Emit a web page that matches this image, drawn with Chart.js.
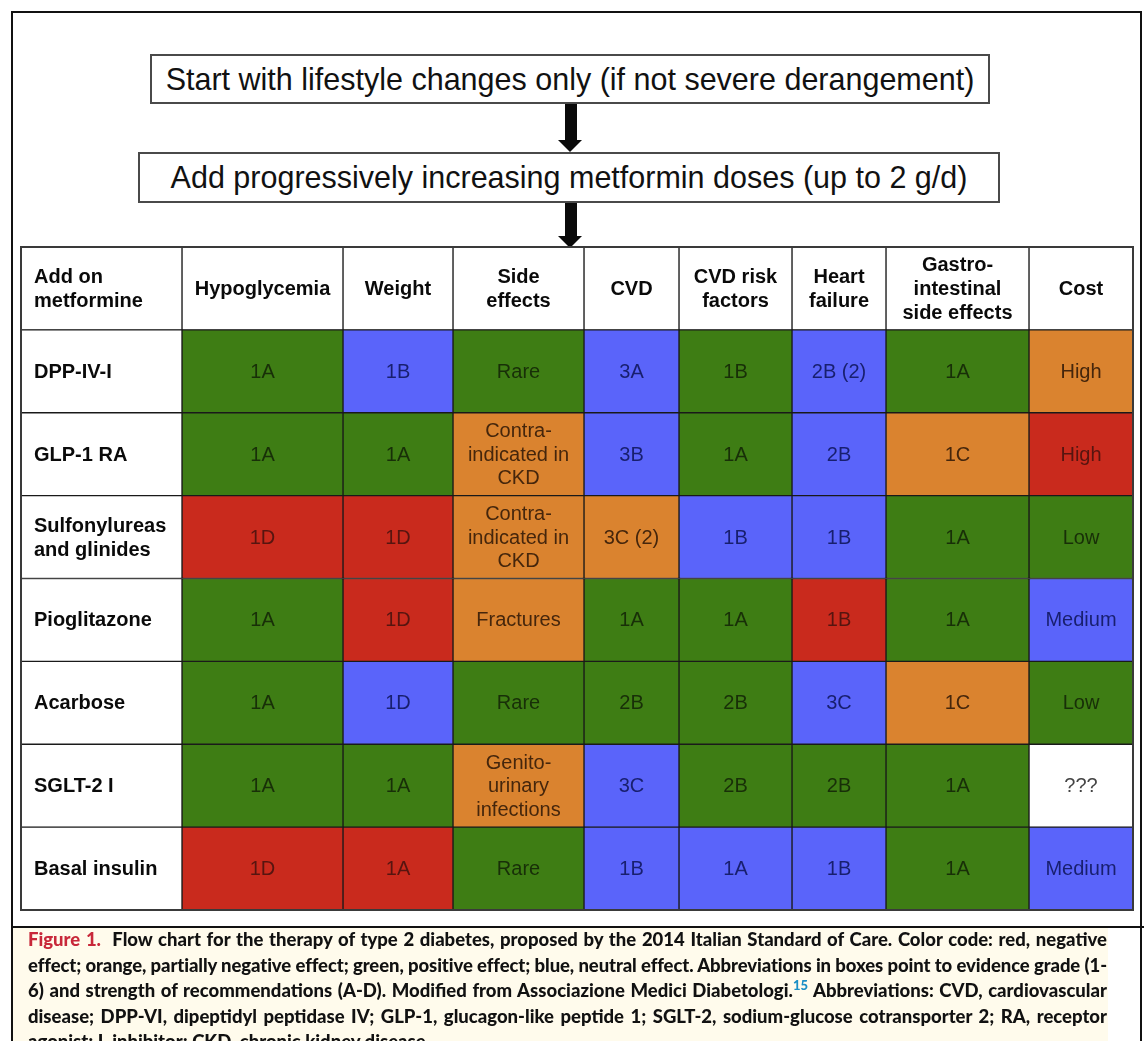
<!DOCTYPE html>
<html>
<head>
<meta charset="utf-8">
<script src="https://cdn.jsdelivr.net/npm/chart.js@4/dist/chart.umd.min.js"></script>
<style>
  body { margin: 0; background: #fff; }
  #page { position: relative; width: 1144px; height: 1041px; overflow: hidden; background: #fff; }
  #frame { position: absolute; left: 11px; top: 11px; width: 1127px; height: 1100px; border: 2px solid #111; }
  #chart { position: absolute; left: 0; top: 0; }
  .box { position: absolute; box-sizing: border-box; border: 2px solid #4a4a4a; background: #fff;
         font-family: "Liberation Sans", Arial, sans-serif; font-size: 30.5px; color: #111; text-align: center; }
  #capline { position: absolute; left: 11px; top: 926px; width: 1133px; height: 2px; background: #111; }
  #capbg { position: absolute; left: 13px; top: 928px; width: 1095px; height: 120px; background: #fffbec; }
  #caption { position: absolute; left: 28px; top: 927px; width: 1079px;
             font-family: Lato, "Open Sans", sans-serif; font-weight: 900; font-size: 18.5px; line-height: 25.5px; color: #111; }
  #caption .j { text-align: justify; text-align-last: justify; }
  #caption .red { color: #c8283a; }
  #caption sup { color: #1b8fc6; font-size: 13px; line-height: 0; vertical-align: 7px; }
</style>
</head>
<body>
<div id="page">
  <div id="frame"></div>
  <canvas id="chart" width="1144" height="1041"></canvas>
  <div class="box" style="left:150px;top:54px;width:840px;height:50px;line-height:46px;">Start with lifestyle changes only (if not severe derangement)</div>
  <div class="box" style="left:138px;top:152px;width:862px;height:51px;line-height:47px;">Add progressively increasing metformin doses (up to 2 g/d)</div>
  <div id="capline"></div>
  <div id="capbg"></div>
  <div id="caption">
    <div class="j"><span class="red">Figure 1.</span>&nbsp; Flow chart for the therapy of type 2 diabetes, proposed by the 2014 Italian Standard of Care. Color code: red, negative</div>
    <div class="j">effect; orange, partially negative effect; green, positive effect; blue, neutral effect. Abbreviations in boxes point to evidence grade (1-</div>
    <div class="j">6) and strength of recommendations (A-D). Modified from Associazione Medici Diabetologi.<sup>15</sup> Abbreviations: CVD, cardiovascular</div>
    <div class="j">disease; DPP-VI, dipeptidyl peptidase IV; GLP-1, glucagon-like peptide 1; SGLT-2, sodium-glucose cotransporter 2; RA, receptor</div>
    <div>agonist; I, inhibitor; CKD, chronic kidney disease.</div>
  </div>
</div>
<script>
// table content
const firstHeader = 'Add on\nmetformine';
const criteria = ['Hypoglycemia', 'Weight', 'Side\neffects', 'CVD', 'CVD risk\nfactors', 'Heart\nfailure', 'Gastro-\nintestinal\nside effects', 'Cost'];
const drugs = ['DPP-IV-I', 'GLP-1 RA', 'Sulfonylureas\nand glinides', 'Pioglitazone', 'Acarbose', 'SGLT-2 I', 'Basal insulin'];

// effect code per cell: R negative, O partially negative, G positive, B neutral, W unknown
const effects = [
  ['G', 'B', 'G', 'B', 'G', 'B', 'G', 'O'],
  ['G', 'G', 'O', 'B', 'G', 'B', 'O', 'R'],
  ['R', 'R', 'O', 'O', 'B', 'B', 'G', 'G'],
  ['G', 'R', 'O', 'G', 'G', 'R', 'G', 'B'],
  ['G', 'B', 'G', 'G', 'G', 'B', 'O', 'G'],
  ['G', 'G', 'O', 'B', 'G', 'G', 'G', 'W'],
  ['R', 'R', 'G', 'B', 'B', 'B', 'G', 'B']
];

// text inside the cells (evidence grade / notes)
const grades = [
  ['1A', '1B', 'Rare', '3A', '1B', '2B (2)', '1A', 'High'],
  ['1A', '1A', 'Contra-\nindicated in\nCKD', '3B', '1A', '2B', '1C', 'High'],
  ['1D', '1D', 'Contra-\nindicated in\nCKD', '3C (2)', '1B', '1B', '1A', 'Low'],
  ['1A', '1D', 'Fractures', '1A', '1A', '1B', '1A', 'Medium'],
  ['1A', '1D', 'Rare', '2B', '2B', '3C', '1C', 'Low'],
  ['1A', '1A', 'Genito-\nurinary\ninfections', '3C', '2B', '2B', '1A', '???'],
  ['1D', '1A', 'Rare', '1B', '1A', '1B', '1A', 'Medium']
];

// layout: column widths in pixels (first column holds the drug names)
const colWidths = [161, 161, 110, 131, 95, 113, 94, 143, 104];

const fill = { R: '#c92a1d', O: '#da832f', G: '#3e7d14', B: '#5a64fa', W: '#ffffff' };
const ink = { R: '#561510', O: '#45260c', G: '#182f08', B: '#181f6e', W: '#444444' };

const rows = ['header'].concat(drugs);

function codeAt(r, c) {
  if (r === 0 || c === 0) return null;
  return effects[r - 1][c - 1];
}

function textAt(r, c) {
  if (r === 0) return c === 0 ? firstHeader : criteria[c - 1];
  if (c === 0) return drugs[r - 1];
  return grades[r - 1][c - 1];
}

const datasets = colWidths.map((w, c) => ({
  label: c === 0 ? 'drug' : criteria[c - 1],
  data: rows.map(() => w),
  backgroundColor: ctx => {
    const code = codeAt(ctx.dataIndex, c);
    return code ? fill[code] : '#ffffff';
  },
  borderColor: '#1a1a1a',
  borderWidth: 1,
  borderSkipped: false,
  barPercentage: 1,
  categoryPercentage: 1
}));

// arrows between the flow boxes
const arrows = {
  id: 'arrows',
  beforeDraw(chart) {
    const ctx = chart.ctx;
    ctx.save();
    ctx.fillStyle = '#0a0a0a';
    [[104, 152], [203, 248]].forEach(([y0, y1]) => {
      const head = 12;
      ctx.fillRect(565, y0, 12, y1 - y0 - head);
      ctx.beginPath();
      ctx.moveTo(558, y1 - head);
      ctx.lineTo(582, y1 - head);
      ctx.lineTo(570, y1);
      ctx.closePath();
      ctx.fill();
    });
    ctx.restore();
  }
};

const cellText = {
  id: 'cellText',
  afterDatasetsDraw(chart) {
    const ctx = chart.ctx;
    ctx.save();
    chart.data.datasets.forEach((ds, c) => {
      chart.getDatasetMeta(c).data.forEach((bar, r) => {
        const bold = r === 0 || c === 0;
        const code = codeAt(r, c);
        const lines = textAt(r, c).split('\n');
        const lh = bold ? 24 : 23.5;
        ctx.font = (bold ? 'bold ' : '') + '20px "Liberation Sans", Arial, sans-serif';
        ctx.fillStyle = code ? ink[code] : '#0a0a0a';
        ctx.textBaseline = 'middle';
        let x;
        if (c === 0) {
          ctx.textAlign = 'left';
          x = Math.min(bar.x, bar.base) + 13;
        } else {
          ctx.textAlign = 'center';
          x = (bar.x + bar.base) / 2;
        }
        const y0 = bar.y - (lines.length - 1) * lh / 2 + 1;
        lines.forEach((t, i) => ctx.fillText(t, x, y0 + i * lh));
      });
    });
    const a = chart.chartArea;
    ctx.strokeStyle = '#3a3a3a';
    ctx.lineWidth = 2;
    ctx.strokeRect(a.left, a.top, a.right - a.left, a.bottom - a.top);
    ctx.restore();
  }
};

new Chart(document.getElementById('chart'), {
  type: 'bar',
  data: { labels: rows, datasets: datasets },
  options: {
    indexAxis: 'y',
    responsive: false,
    animation: false,
    devicePixelRatio: 1,
    layout: { padding: { left: 21, top: 247, right: 11, bottom: 131 } },
    scales: {
      x: { stacked: true, display: false, min: 0, max: colWidths.reduce((s, v) => s + v, 0) },
      y: { stacked: true, display: false }
    },
    plugins: { legend: { display: false }, tooltip: { enabled: false } }
  },
  plugins: [arrows, cellText]
});

// squeeze caption lines a little if a line would wrap
document.querySelectorAll('#caption .j').forEach(el => {
  let ls = 0;
  while (el.getBoundingClientRect().height > 30 && ls > -2) {
    ls -= 0.1;
    el.style.letterSpacing = ls.toFixed(2) + 'px';
  }
});
</script>
</body>
</html>
